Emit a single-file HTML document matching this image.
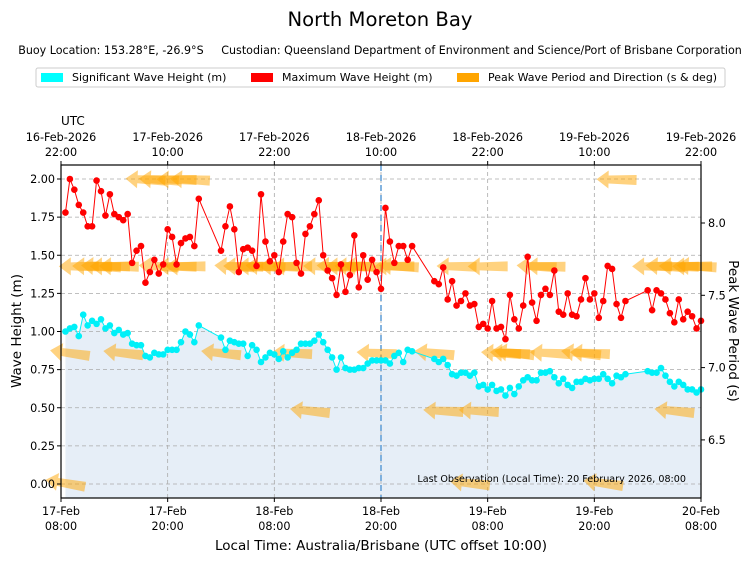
<!DOCTYPE html>
<html><head><meta charset="utf-8"><style>
body{margin:0;background:#fff;width:753px;height:562px;overflow:hidden;font-family:"DejaVu Sans",sans-serif}
svg{display:block}
</style></head><body>
<svg id="c" width="753" height="562" xmlns="http://www.w3.org/2000/svg" font-family="DejaVu Sans, sans-serif">
<text x="380" y="26" font-size="19.6" text-anchor="middle">North Moreton Bay</text>
<text x="380" y="54" font-size="11.1" text-anchor="middle" style="white-space:pre">Buoy Location: 153.28°E, -26.9°S     Custodian: Queensland Department of Environment and Science/Port of Brisbane Corporation</text>
<g>
<rect x="36" y="68" width="689" height="19" fill="#fff" stroke="#ccc" rx="2"/>
<g><rect x="41" y="73" width="22" height="9" fill="#00ffff"/><text x="72" y="81" font-size="11">Significant Wave Height (m)</text></g>
<g><rect x="251" y="73" width="22" height="9" fill="#ff0000"/><text x="282" y="81" font-size="11">Maximum Wave Height (m)</text></g>
<g><rect x="457" y="73" width="22" height="9" fill="#ffa500"/><text x="488" y="81" font-size="11">Peak Wave Period and Direction (s &amp; deg)</text></g>
</g>
<text x="61" y="125" font-size="12">UTC</text>
<text x="381" y="550" font-size="13.5" text-anchor="middle">Local Time: Australia/Brisbane (UTC offset 10:00)</text>
<text transform="translate(21,331) rotate(-90)" font-size="13.5" text-anchor="middle">Wave Height (m)</text>
<text transform="translate(729,331) rotate(90)" font-size="13.5" text-anchor="middle">Peak Wave Period (s)</text>
<g id="plot"></g>
</svg>
<script>
const times=[0.5,1,1.5,2,2.5,3,3.5,4,4.5,5,5.5,6,6.5,7,7.5,8,8.5,9,9.5,10,10.5,11,11.5,12,12.5,13,13.5,14,14.5,15,15.5,
18,18.5,19,19.5,20,20.5,21,21.5,22,22.5,23,23.5,24,24.5,25,25.5,26,26.5,27,27.5,28,28.5,29,29.5,30,30.5,31,31.5,32,32.5,33,33.5,34,34.5,35,35.5,36,36.5,37,37.5,38,38.5,39,39.5,
42,42.5,43,43.5,44,44.5,45,45.5,46,46.5,47,47.5,48,48.5,49,49.5,50,50.5,51,51.5,52,52.5,53,53.5,54,54.5,55,55.5,56,56.5,57,57.5,58,58.5,59,59.5,60,60.5,61,61.5,62,62.5,63,63.5,
66,66.5,67,67.5,68,68.5,69,69.5,70,70.5,71,71.5,72];
const maxHeight=[1.78,2.0,1.93,1.83,1.78,1.69,1.69,1.99,1.92,1.76,1.90,1.77,1.75,1.73,1.77,1.45,1.53,1.56,1.32,1.39,1.47,1.38,1.44,1.67,1.62,1.44,1.58,1.61,1.62,1.56,1.87,
1.53,1.69,1.82,1.67,1.39,1.54,1.55,1.53,1.43,1.90,1.59,1.46,1.50,1.39,1.59,1.77,1.75,1.45,1.38,1.64,1.69,1.77,1.86,1.50,1.40,1.35,1.24,1.44,1.26,1.37,1.63,1.29,1.50,1.34,1.47,1.39,1.28,1.81,1.59,1.45,1.56,1.56,1.47,1.56,
1.33,1.31,1.42,1.21,1.33,1.17,1.20,1.25,1.17,1.18,1.03,1.05,1.02,1.20,1.02,1.03,0.95,1.24,1.08,1.02,1.17,1.49,1.19,1.07,1.24,1.28,1.24,1.40,1.13,1.11,1.25,1.11,1.10,1.21,1.35,1.21,1.25,1.09,1.20,1.43,1.41,1.18,1.09,1.20,
1.27,1.14,1.27,1.25,1.21,1.12,1.06,1.21,1.08,1.13,1.10,1.02,1.07];
const sigHeight=[1.0,1.02,1.03,0.97,1.11,1.04,1.07,1.05,1.08,1.02,1.04,0.99,1.01,0.98,0.99,0.92,0.91,0.91,0.84,0.83,0.86,0.85,0.85,0.88,0.88,0.88,0.93,1.0,0.98,0.93,1.04,
0.96,0.88,0.94,0.93,0.92,0.92,0.84,0.91,0.88,0.80,0.83,0.86,0.85,0.82,0.87,0.83,0.86,0.88,0.92,0.92,0.92,0.94,0.98,0.93,0.88,0.83,0.75,0.83,0.76,0.75,0.75,0.76,0.76,0.79,0.81,0.81,0.81,0.81,0.79,0.84,0.86,0.80,0.88,0.87,
0.82,0.80,0.82,0.78,0.72,0.71,0.73,0.73,0.71,0.73,0.64,0.65,0.62,0.65,0.61,0.62,0.58,0.63,0.59,0.64,0.68,0.70,0.68,0.68,0.73,0.73,0.74,0.70,0.66,0.69,0.65,0.63,0.67,0.67,0.69,0.68,0.69,0.69,0.72,0.69,0.66,0.71,0.70,0.72,
0.74,0.73,0.73,0.76,0.71,0.67,0.64,0.67,0.65,0.62,0.62,0.60,0.62];
const peakTimes=[9.5,11,13,14.5,62.5, 2,3.5,4.5,5.5,6.5,11,13,14,19.5,20.5,22,23,24.5,26,29.5,31,32,33,34,37.5,38,44.5,48,53.5,54.5,66.5,68,69.5,71,71.5, 1,7,18,26,35.5,42,49.5,50.5,51,55,58.5,59.5, 28,43,47,69, 0.5,46,61];
const peakPeriod=[8.3,8.3,8.3,8.3,8.3, 7.7,7.7,7.7,7.7,7.7,7.7,7.7,7.7,7.7,7.7,7.7,7.7,7.7,7.7,7.7,7.7,7.7,7.7,7.7,7.7,7.7,7.7,7.7,7.7,7.7,7.7,7.7,7.7,7.7,7.7, 7.1,7.1,7.1,7.1,7.1,7.1,7.1,7.1,7.1,7.1,7.1,7.1, 6.7,6.7,6.7,6.7, 6.2,6.2,6.2];
const peakDir=[93,93,91,93,91, 90,91,93,90,91,93,91,90,93,91,90,93,91,90,91,93,90,91,93,90,93,91,90,93,91,90,93,91,90,93, 98,96,96,93,93,96,93,93,96,93,96,93, 96,93,93,96, 100,96,98];
const xTickHours=[0,12,24,36,48,60,72];
const xTickDates=["17-Feb","17-Feb","18-Feb","18-Feb","19-Feb","19-Feb","20-Feb"];
const xTickTimes=["08:00","20:00","08:00","20:00","08:00","20:00","08:00"];
const utcDates=["16-Feb-2026","17-Feb-2026","17-Feb-2026","18-Feb-2026","18-Feb-2026","19-Feb-2026","19-Feb-2026"];
const utcTimes=["22:00","10:00","22:00","10:00","22:00","10:00","22:00"];
const yTicks=[0,0.25,0.5,0.75,1.0,1.25,1.5,1.75,2.0];
const y2Ticks=[6.5,7.0,7.5,8.0];

const L=61,R=701,T=165,B=498;
const xs=h=>L+(R-L)*h/72;
const ys=v=>484-v*152.5;
const y2=p=>223+(8.0-p)*144.6;
const NS="http://www.w3.org/2000/svg";
const g=document.getElementById('plot');
function mk(tag,attrs,parent){const e=document.createElementNS(NS,tag);for(const k in attrs)e.setAttribute(k,attrs[k]);(parent||g).appendChild(e);return e;}

let fd=`M${xs(times[0])},${B}`;times.forEach((t,i)=>fd+=` L${xs(t)},${ys(sigHeight[i])}`);fd+=` L${xs(times[times.length-1])},${B} Z`;
const fill=mk('path',{d:fd,fill:'#e6eef7'});


yTicks.forEach(v=>{const l=mk('line',{x1:L,x2:R,y1:ys(v),y2:ys(v),stroke:'#aaa','stroke-dasharray':'4,3','stroke-width':0.8});

});
xTickHours.forEach(h=>{const l=mk('line',{x1:xs(h),x2:xs(h),y1:T,y2:B,stroke:'#aaa','stroke-dasharray':'4,3','stroke-width':0.8});

});
const nl=mk('line',{x1:xs(36),x2:xs(36),y1:T,y2:B,stroke:'#5b9bd5','stroke-dasharray':'6,4','stroke-width':1.5});


peakTimes.forEach((t,i)=>{
  const cx=xs(t),cy=y2(peakPeriod[i]),a=peakDir[i]+90;
  const p=mk('path',{d:'M-20,0 L-8,-9 L-8,-4 L20,-5 L20,5 L-8,4 L-8,9 Z',fill:'#ffa500','fill-opacity':0.5,transform:`translate(${cx},${cy}) rotate(${a-180})`});
  
  
});
function series(vals,color,name){
  const pts=times.map((t,i)=>`${xs(t)},${ys(vals[i])}`).join(' ');
  const pl=mk('polyline',{points:pts,fill:'none',stroke:color,'stroke-width':1});
  
  
  times.forEach((t,i)=>{const c=mk('circle',{cx:xs(t),cy:ys(vals[i]),r:3.3,fill:color});
    
    });
}
series(sigHeight,'#00f0f8','sig-height');
series(maxHeight,'#ff0000','max-height');
const fr=mk('rect',{x:L,y:T,width:R-L,height:B-T,fill:'none',stroke:'#000','stroke-width':1.2});


xTickHours.forEach((h,i)=>{const x=xs(h);
  mk('line',{x1:x,x2:x,y1:B,y2:B+4,stroke:'#000'});mk('line',{x1:x,x2:x,y1:T,y2:T-4,stroke:'#000'});
  const a=mk('text',{x:x,y:515,'font-size':11.2,'text-anchor':'middle'});a.textContent=xTickDates[i];
  
  
  const b=mk('text',{x:x,y:530,'font-size':11.2,'text-anchor':'middle'});b.textContent=xTickTimes[i];
  
  
  const c=mk('text',{x:x,y:141,'font-size':11.2,'text-anchor':'middle'});c.textContent=utcDates[i];
  
  
  const d=mk('text',{x:x,y:156,'font-size':11.2,'text-anchor':'middle'});d.textContent=utcTimes[i];
  
  
});
yTicks.forEach(v=>{const y=ys(v);mk('line',{x1:L-4,x2:L,y1:y,y2:y,stroke:'#000'});
  const t=mk('text',{x:L-6,y:y+4,'font-size':11.2,'text-anchor':'end'});t.textContent=v.toFixed(2);
  
  });
y2Ticks.forEach(v=>{const y=y2(v);mk('line',{x1:R,x2:R+4,y1:y,y2:y,stroke:'#000'});
  const t=mk('text',{x:R+7,y:y+4,'font-size':11.2});t.textContent=v.toFixed(1);
  
  });
const lo=mk('text',{x:686,y:482,'font-size':9.6,'text-anchor':'end'});lo.textContent='Last Observation (Local Time): 20 February 2026, 08:00';


</script>
</body></html>
